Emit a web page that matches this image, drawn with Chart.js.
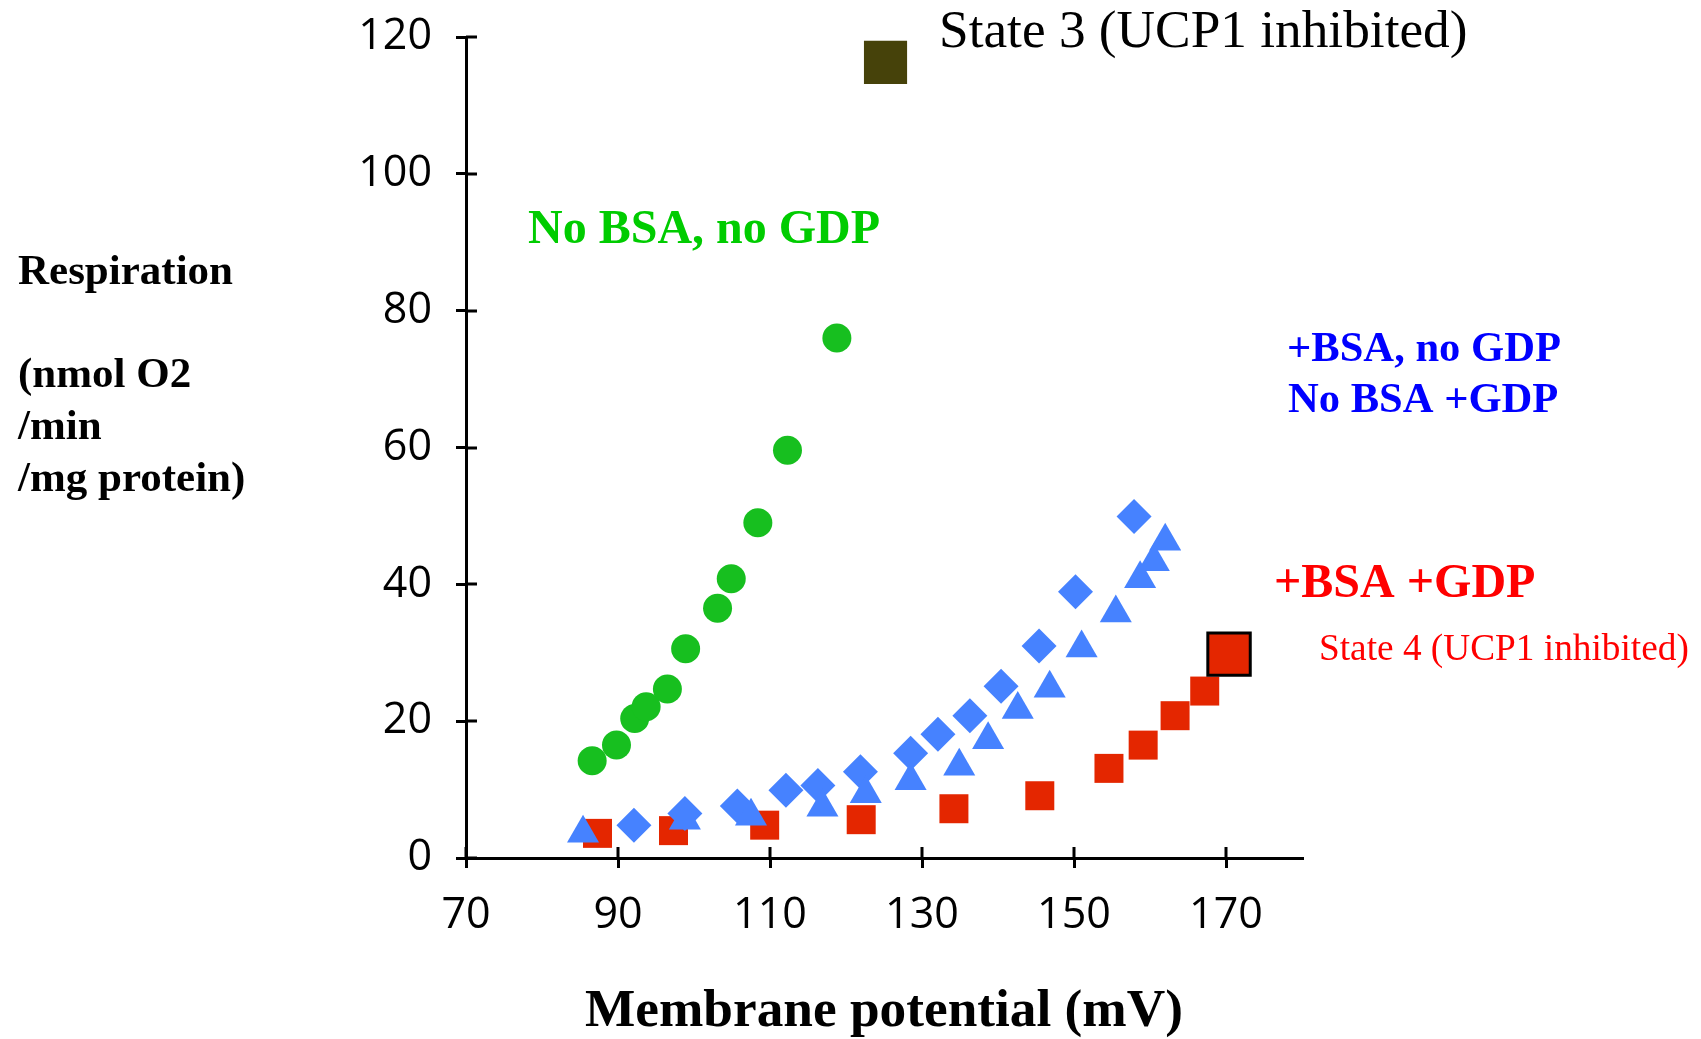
<!DOCTYPE html>
<html>
<head>
<meta charset="utf-8">
<script src="https://cdn.jsdelivr.net/npm/chart.js@4/dist/chart.umd.min.js"></script>
<style>
  html, body { margin: 0; padding: 0; background: #fff; }
  #wrap { width: 1701px; height: 1039px; }
</style>
</head>
<body>
<div id="wrap"><canvas id="chart" width="1701" height="1039"></canvas></div>
<script>
// Ticks
const xTicks = [70, 90, 110, 130, 150, 170];
const yTicks = [0, 20, 40, 60, 80, 100, 120];

// No BSA, no GDP (circles)
const greenX = [86.6, 89.8, 92.2, 93.7, 96.5, 98.9, 103.1, 104.9, 108.4, 112.3, 118.8];
const greenY = [14.2, 16.5, 20.4, 22.1, 24.7, 30.6, 36.5, 40.8, 49.0, 59.6, 76.0];

// +BSA, no GDP (diamonds)
const diamondX = [92.1, 98.8, 105.7, 112.1, 116.3, 121.9, 128.5, 132.1, 136.3, 140.4, 145.4, 150.2, 157.9];
const diamondY = [4.8, 6.5, 7.6, 9.9, 10.6, 12.6, 15.3, 18.1, 20.8, 25.1, 31.0, 38.9, 49.9];

// No BSA +GDP (triangles)
const triangleX = [85.4, 98.8, 107.5, 116.9, 122.6, 128.5, 134.9, 138.7, 142.6, 146.8, 151.0, 155.5, 158.7, 160.5, 162.0];
const triangleY = [3.6, 5.5, 6.1, 7.4, 9.4, 11.3, 13.4, 17.3, 21.7, 24.8, 30.7, 35.8, 40.8, 43.3, 46.3];

// +BSA +GDP (squares)
const redX = [87.3, 97.3, 109.3, 122.0, 134.2, 145.5, 154.6, 159.1, 163.3, 167.2];
const redY = [3.6, 4.0, 4.8, 5.6, 7.2, 9.1, 13.1, 16.5, 20.8, 24.4];

// single points
const state3 = [125.2, 116.3];
const state4 = [170.4, 29.8];

function pts(xs, ys) {
  return xs.map((x, i) => ({ x: x, y: ys[i] }));
}

// Text around the plot
const notes = [
  { text: 'State 3 (UCP1 inhibited)', x: 939, y: 47, font: '53.3px "Liberation Serif"', color: '#000000' },
  { text: 'No BSA, no GDP', x: 528, y: 243, font: 'bold 48px "Liberation Serif"', color: '#00CC00' },
  { text: '+BSA, no GDP', x: 1287, y: 361, font: 'bold 42.6px "Liberation Serif"', color: '#0000FF' },
  { text: 'No BSA +GDP', x: 1288, y: 412, font: 'bold 42.6px "Liberation Serif"', color: '#0000FF' },
  { text: '+BSA +GDP', x: 1274, y: 597, font: 'bold 48px "Liberation Serif"', color: '#FF0000' },
  { text: 'State 4 (UCP1 inhibited)', x: 1319, y: 660, font: '37.3px "Liberation Serif"', color: '#FF0000' },
  { text: 'Respiration', x: 18, y: 284, font: 'bold 43px "Liberation Serif"', color: '#000000' },
  { text: '(nmol O2', x: 18, y: 387, font: 'bold 43px "Liberation Serif"', color: '#000000' },
  { text: '/min', x: 18, y: 439, font: 'bold 43px "Liberation Serif"', color: '#000000' },
  { text: '/mg protein)', x: 18, y: 491, font: 'bold 43px "Liberation Serif"', color: '#000000' }
];

const textPlugin = {
  id: 'notes',
  afterDraw(chart) {
    const ctx = chart.ctx;
    ctx.save();
    ctx.textAlign = 'left';
    ctx.textBaseline = 'alphabetic';
    notes.forEach(n => {
      ctx.font = n.font;
      ctx.fillStyle = n.color;
      ctx.fillText(n.text, n.x, n.y);
    });
    ctx.restore();
  }
};

// tick marks also poke into the plot area
const innerTicks = {
  id: 'innerTicks',
  beforeDatasetsDraw(chart) {
    const ctx = chart.ctx;
    const xs = chart.scales.x, ys = chart.scales.y;
    const area = chart.chartArea;
    ctx.save();
    ctx.strokeStyle = '#000';
    ctx.lineWidth = 3;
    ctx.beginPath();
    xTicks.forEach(v => {
      const px = Math.round(xs.getPixelForValue(v));
      ctx.moveTo(px, area.bottom);
      ctx.lineTo(px, area.bottom - 11);
    });
    yTicks.forEach(v => {
      const py = Math.round(ys.getPixelForValue(v));
      ctx.moveTo(area.left, py);
      ctx.lineTo(area.left + 11, py);
    });
    ctx.stroke();
    ctx.restore();
  }
};

const ctx = document.getElementById('chart').getContext('2d');
new Chart(ctx, {
  type: 'scatter',
  data: {
    datasets: [
      {
        label: 'State 4 (UCP1 inhibited)',
        data: [{ x: state4[0], y: state4[1] }],
        pointStyle: 'rect',
        pointRadius: 30,
        backgroundColor: '#E42600',
        borderColor: '#000000',
        borderWidth: 3,
        order: 0
      },
      {
        label: 'No BSA +GDP',
        data: pts(triangleX, triangleY),
        pointStyle: 'triangle',
        pointRadius: 18.5,
        backgroundColor: '#4682FF',
        borderWidth: 0,
        order: 1
      },
      {
        label: '+BSA, no GDP',
        data: pts(diamondX, diamondY),
        pointStyle: 'rectRot',
        pointRadius: 17.5,
        backgroundColor: '#4682FF',
        borderWidth: 0,
        order: 2
      },
      {
        label: 'No BSA, no GDP',
        data: pts(greenX, greenY),
        pointStyle: 'circle',
        pointRadius: 14.5,
        backgroundColor: '#17BF1F',
        borderWidth: 0,
        order: 3
      },
      {
        label: '+BSA +GDP',
        data: pts(redX, redY),
        pointStyle: 'rect',
        pointRadius: 20.5,
        backgroundColor: '#E42600',
        borderWidth: 0,
        order: 4
      },
      {
        label: 'State 3 (UCP1 inhibited)',
        data: [{ x: state3[0], y: state3[1] }],
        pointStyle: 'rect',
        pointRadius: 30.5,
        backgroundColor: '#46420A',
        borderWidth: 0,
        order: 5
      }
    ]
  },
  options: {
    responsive: false,
    animation: false,
    events: [],
    clip: false,
    layout: { padding: { left: 0, right: 399, top: 37, bottom: 0 } },
    plugins: {
      legend: { display: false },
      tooltip: { enabled: false }
    },
    scales: {
      x: {
        type: 'linear',
        min: 70,
        max: 180,
        afterBuildTicks: (scale) => { scale.ticks = xTicks.map(v => ({ value: v })); },
        afterFit: (scale) => { scale.height = 181; },
        border: { display: true, color: '#000', width: 3 },
        grid: { drawOnChartArea: false, drawTicks: true, tickLength: 10, color: '#000', lineWidth: 3 },
        ticks: { color: '#000', font: { family: '"Open Sans"', size: 43 }, padding: 22, maxRotation: 0 },
        title: {
          display: true,
          text: 'Membrane potential (mV)',
          color: '#000',
          font: { family: '"Liberation Serif"', size: 53.3, weight: 'bold', lineHeight: 1 },
          padding: { top: 0, bottom: 0 }
        }
      },
      y: {
        type: 'linear',
        min: 0,
        max: 120,
        afterBuildTicks: (scale) => { scale.ticks = yTicks.map(v => ({ value: v })); },
        afterFit: (scale) => { scale.width = 466; },
        border: { display: true, color: '#000', width: 3 },
        grid: { drawOnChartArea: false, drawTicks: true, tickLength: 10, color: '#000', lineWidth: 3 },
        ticks: { color: '#000', font: { family: '"Open Sans"', size: 43, lineHeight: 0.5 }, padding: 24 }
      }
    }
  },
  plugins: [innerTicks, textPlugin]
});
</script>
</body>
</html>
